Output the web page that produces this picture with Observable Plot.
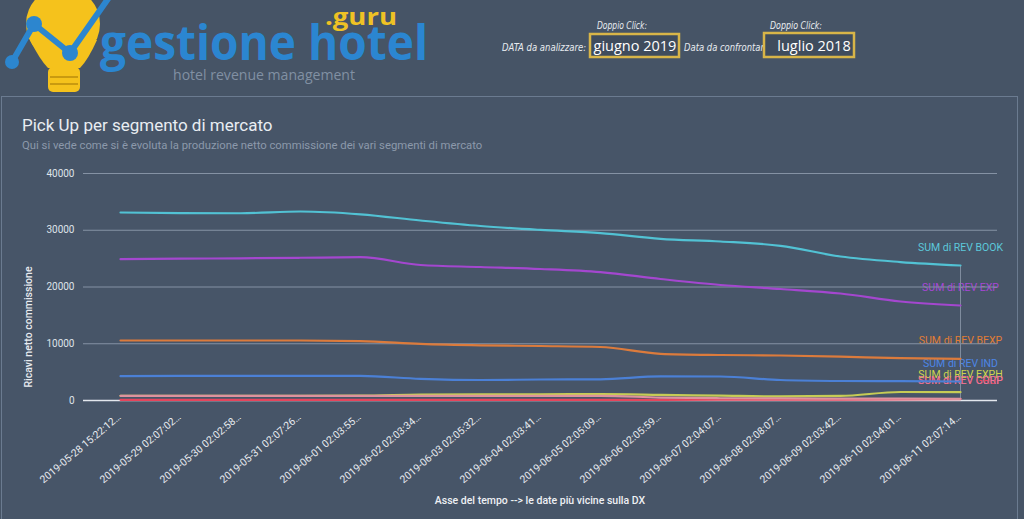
<!DOCTYPE html>
<html>
<head>
<meta charset="utf-8">
<script src="https://cdn.jsdelivr.net/npm/d3@7"></script>
<script src="https://cdn.jsdelivr.net/npm/@observablehq/plot@0.6"></script>
<style>
  html, body { margin: 0; padding: 0; }
  body { width: 1024px; height: 519px; overflow: hidden; position: relative; background: #465466; font-family: Roboto, "Noto Sans", sans-serif; }
  #header { position: absolute; left: 0; top: 0; }
  #card { position: absolute; left: 1px; top: 96px; width: 1015px; height: 440px; border: 1px solid #6b7b90; background: #475568; }
  #title { position: absolute; left: 22px; top: 115px; font-size: 17px; color: #e9edf2; white-space: nowrap; }
  #subtitle { position: absolute; left: 22px; top: 139px; font-size: 11.3px; color: #8c99ab; white-space: nowrap; }
  #chart { position: absolute; left: 0; top: 160px; }
  #ylab { position: absolute; left: 28px; top: 327px; transform: translate(-50%, -50%) rotate(-90deg); font-size: 10.5px; color: #e8ebf0; white-space: nowrap; font-weight: 500; }
  #xlab { position: absolute; left: 540px; top: 500px; transform: translate(-50%, -50%); font-size: 10.5px; color: #eef0f4; white-space: nowrap; font-weight: 500; }
</style>
</head>
<body>
<svg id="header" width="1024" height="96" xmlns="http://www.w3.org/2000/svg">
  <!-- bulb -->
  <circle cx="63" cy="24" r="37" fill="#f5c21c"/>
  <path d="M30 40 Q40 60 48 68 L80 68 Q88 60 97 40 Z" fill="#f5c21c"/>
  <rect x="48" y="67" width="32" height="25" rx="5" fill="#f5c21c"/>
  <line x1="50" y1="77" x2="78" y2="77" stroke="#c99a10" stroke-width="2"/>
  <line x1="50" y1="84" x2="78" y2="84" stroke="#c99a10" stroke-width="2"/>
  <polyline points="12,62 34,24 70,53 110,-4" fill="none" stroke="#2c86cf" stroke-width="6" stroke-linejoin="round"/>
  <circle cx="12" cy="62" r="7" fill="#2c86cf"/>
  <circle cx="34" cy="24" r="8" fill="#2c86cf"/>
  <circle cx="70" cy="53" r="8" fill="#2c86cf"/>
  <text x="100" y="60" font-family="'Open Sans', sans-serif" font-weight="700" font-size="48" fill="#2b86d1" textLength="328" lengthAdjust="spacingAndGlyphs">gestione hotel</text>
  <text x="325" y="25" font-family="'Open Sans', sans-serif" font-weight="700" font-size="24" fill="#efc224" textLength="72" lengthAdjust="spacingAndGlyphs">.guru</text>
  <text x="173" y="80" font-family="'Open Sans', sans-serif" font-size="15" fill="#8190a3" textLength="182" lengthAdjust="spacingAndGlyphs">hotel revenue management</text>
  <!-- selectors -->
  <text x="597" y="29" font-family="'DejaVu Sans', sans-serif" font-style="italic" font-size="10" fill="#e8ecf0" textLength="50" lengthAdjust="spacingAndGlyphs">Doppio Click:</text>
  <text x="502" y="51" font-family="'DejaVu Sans', sans-serif" font-style="italic" font-size="10.5" fill="#e8ecf0" textLength="84" lengthAdjust="spacingAndGlyphs">DATA da analizzare:</text>
  <rect x="590" y="34" width="89" height="23" fill="#3f4c5d" stroke="#d8b548" stroke-width="2.5"/>
  <text x="635" y="51" text-anchor="middle" font-family="'Open Sans', sans-serif" font-size="14.5" fill="#ffffff">giugno 2019</text>
  <text x="684" y="51" font-family="'DejaVu Sans', sans-serif" font-style="italic" font-size="10.5" fill="#e8ecf0" textLength="88" lengthAdjust="spacingAndGlyphs">Data da confrontare:</text>
  <text x="770" y="29" font-family="'DejaVu Sans', sans-serif" font-style="italic" font-size="10" fill="#e8ecf0" textLength="52" lengthAdjust="spacingAndGlyphs">Doppio Click:</text>
  <rect x="764" y="33" width="90" height="24" fill="#3f4c5d" stroke="#d8b548" stroke-width="2.5"/>
  <text x="814" y="51" text-anchor="middle" font-family="'Open Sans', sans-serif" font-size="14.5" fill="#ffffff">luglio 2018</text>
</svg>
<div id="card"></div>
<div id="title">Pick Up per segmento di mercato</div>
<div id="subtitle">Qui si vede come si è evoluta la produzione netto commissione dei vari segmenti di mercato</div>
<div id="chart"></div>
<div id="ylab">Ricavi netto commissione</div>
<div id="xlab">Asse del tempo --&gt; le date più vicine sulla DX</div>
<script>
// ---- data ----
const dates = [
  "2019-05-28 15:22:12", "2019-05-29 02:07:02", "2019-05-30 02:02:58", "2019-05-31 02:07:26",
  "2019-06-01 02:03:55", "2019-06-02 02:03:34", "2019-06-03 02:05:32", "2019-06-04 02:03:41",
  "2019-06-05 02:05:09", "2019-06-06 02:05:59", "2019-06-07 02:04:07", "2019-06-08 02:08:07",
  "2019-06-09 02:03:42", "2019-06-10 02:04:01", "2019-06-11 02:07:14"
];
const revBook = [33130, 33020, 33000, 33300, 32810, 31720, 30750, 30060, 29500, 28490, 28020, 27260, 25370, 24400, 23790];
const revExp  = [24900, 24990, 25060, 25150, 25250, 23880, 23520, 23170, 22610, 21410, 20350, 19650, 18850, 17440, 16740];
const revBexp = [10570, 10570, 10570, 10570, 10480, 9990, 9730, 9600, 9430, 8230, 8020, 7930, 7720, 7450, 7350];
const revInd  = [4280, 4330, 4350, 4350, 4330, 3820, 3610, 3700, 3740, 4260, 4230, 3610, 3440, 3400, 3350];
const revGrup = [120, 120, 120, 120, 120, 120, 120, 120, 120, 120, 130, 150, 170, 200, 250];
const revExph = [830, 830, 830, 830, 850, 1050, 1100, 1100, 1120, 1000, 850, 720, 800, 1500, 1460];
const revCorp = [830, 830, 830, 830, 830, 830, 830, 830, 820, 520, 400, 360, 340, 320, 300];
const seriesNames = ["SUM di REV BOOK", "SUM di REV EXP", "SUM di REV BEXP", "SUM di REV IND", "SUM di REV GRUP", "SUM di REV EXPH", "SUM di REV CORP"];
const seriesValues = [revBook, revExp, revBexp, revInd, revGrup, revExph, revCorp];
const seriesColors = ["#52c2d4", "#a447cf", "#dc7b3c", "#4b80d6", "#e6455c", "#c6cc55", "#df929e"];
const labelColors  = ["#5cc8da", "#a946d8", "#e27d34", "#4d86e6", "#ea4560", "#cdd44e", "#e8799a"];
const yTicks = [0, 10000, 20000, 30000, 40000];
// --------------

const last = dates.length - 1;
const marks = [];

// y tick labels
marks.push(Plot.text(yTicks, {y: d => d, text: d => String(d), frameAnchor: "left", dx: -39, textAnchor: "end", fill: "#dfe3e9", fontSize: 10}));

// series end labels (under the gridlines, as in the reference)
seriesNames.forEach((name, k) => {
  marks.push(Plot.text([dates[last]], {
    x: d => d, y: () => seriesValues[k][last], text: () => name,
    fill: labelColors[k], fontSize: 10.5, dy: -18, textAnchor: "middle"
  }));
});

// gridlines
marks.push(Plot.ruleY(yTicks.filter(d => d > 0), {stroke: "#8592a4", strokeWidth: 1, insetLeft: -30, insetRight: -31}));
// vertical rule at latest date
marks.push(Plot.ruleX([dates[last]], {y1: 0, y2: revBook[last], stroke: "#7f8c9e", strokeWidth: 1}));
// zero line
marks.push(Plot.ruleY([0], {stroke: "#e3e7ed", strokeWidth: 1.5, insetLeft: -30, insetRight: -31}));

// lines
seriesValues.forEach((vals, k) => {
  marks.push(Plot.line(dates, {
    x: d => d, y: (d, i) => vals[i], stroke: seriesColors[k], strokeWidth: 2.2, curve: "monotone-x"
  }));
});

// x tick labels
marks.push(Plot.text(dates, {
  x: d => d, y: () => 0, text: d => d + "…", rotate: -40, textAnchor: "end",
  dx: -1, dy: 15, fill: "#e8ebf0", fontSize: 10.4
}));

const chart = Plot.plot({
  width: 1018,
  height: 359,
  marginLeft: 113,
  marginRight: 52,
  marginTop: 13,
  marginBottom: 119,
  x: {type: "point", domain: dates, padding: 0, axis: null},
  y: {domain: [0, 40000], axis: null},
  style: {background: "transparent", fontFamily: "Roboto, 'Noto Sans', sans-serif", color: "#e6e9ee", overflow: "visible"},
  marks
});
document.getElementById("chart").appendChild(chart);
</script>
</body>
</html>
